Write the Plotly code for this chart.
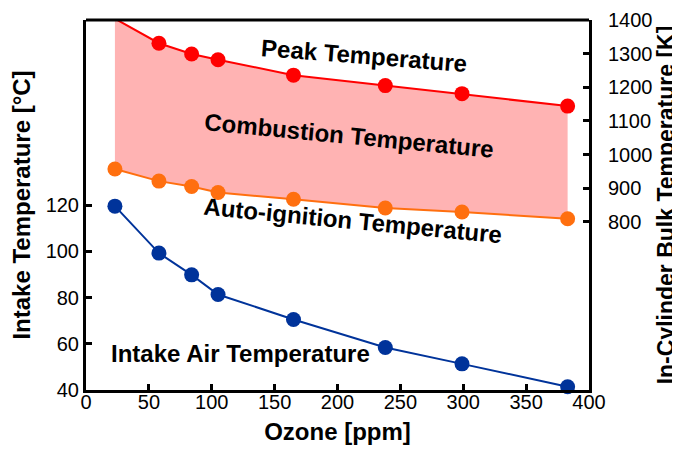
import plotly.graph_objects as go

ozone = [23, 58, 84, 105, 165, 238, 299, 383]
intake_air = [119.5, 99.2, 89.8, 81.3, 70.5, 58.4, 51.3, 41.4]
peak_temp = [1404, 1331, 1299, 1282, 1236, 1205, 1181, 1144]
auto_ign = [957, 921, 905, 887, 867, 841, 829, 809]

x_ticks = [0, 50, 100, 150, 200, 250, 300, 350, 400]
left_ticks = [40, 60, 80, 100, 120]
right_ticks = [800, 900, 1000, 1100, 1200, 1300, 1400]

FONT = "Liberation Sans, Arial, sans-serif"
RED = "#FF0000"
ORANGE = "#FF6F0F"
BLUE = "#00339A"
FILL = "#FFB3B3"

fig = go.Figure()

# Combustion band (fill only)
fig.add_trace(go.Scatter(x=ozone, y=auto_ign, yaxis="y2", mode="lines",
                         line=dict(width=0, color=FILL), showlegend=False, hoverinfo="skip"))
fig.add_trace(go.Scatter(x=ozone, y=peak_temp, yaxis="y2", mode="lines",
                         line=dict(width=0, color=FILL), fill="tonexty", fillcolor=FILL,
                         showlegend=False, hoverinfo="skip"))

# Lines with markers
fig.add_trace(go.Scatter(x=ozone, y=peak_temp, yaxis="y2", mode="lines+markers",
                         line=dict(color=RED, width=2), marker=dict(color=RED, size=15),
                         cliponaxis=False, showlegend=False))
fig.add_trace(go.Scatter(x=ozone, y=auto_ign, yaxis="y2", mode="lines+markers",
                         line=dict(color=ORANGE, width=2), marker=dict(color=ORANGE, size=15),
                         cliponaxis=False, showlegend=False))
fig.add_trace(go.Scatter(x=ozone, y=intake_air, yaxis="y", mode="lines+markers",
                         line=dict(color=BLUE, width=2), marker=dict(color=BLUE, size=15),
                         cliponaxis=False, showlegend=False))

ann_font = dict(family=FONT, size=24, color="black")
annotations = [
    dict(text="<b>Peak Temperature</b>", x=0.553, y=0.905, textangle=4.5),
    dict(text="<b>Combustion Temperature</b>", x=0.523, y=0.688, textangle=5.5),
    dict(text="<b>Auto-ignition Temperature</b>", x=0.531, y=0.458, textangle=5.5),
    dict(text="<b>Intake Air Temperature</b>", x=0.308, y=0.100, textangle=0),
]
for a in annotations:
    fig.add_annotation(xref="paper", yref="paper", showarrow=False, font=ann_font,
                       xanchor="center", yanchor="middle", **a)

# top frame line
fig.add_shape(type="line", xref="paper", yref="paper", x0=0, x1=1, y0=1, y1=1,
              line=dict(color="black", width=3), layer="above")

axis_common = dict(showline=True, linecolor="black", linewidth=3, ticks="inside",
                   ticklen=6, tickwidth=3, tickcolor="black", showgrid=False, zeroline=False,
                   automargin=False, ticklabeloverflow="allow",
                   tickfont=dict(family=FONT, size=20, color="black"))

title_font = dict(family=FONT, size=24, color="black")

fig.update_layout(
    width=672, height=442,
    margin=dict(l=78, r=91, t=12, b=60),
    paper_bgcolor="white", plot_bgcolor="white",
    xaxis=dict(range=[0, 400], tickvals=x_ticks, ticklabelstandoff=-8,
               title=dict(text="<b>Ozone [ppm]</b>", font=title_font, standoff=12),
               **axis_common),
    yaxis=dict(range=[40, 200], tickvals=left_ticks,
               title=dict(text="<b>Intake Temperature [°C]</b>", font=title_font, standoff=10),
               **axis_common),
    yaxis2=dict(range=[300, 1400], tickvals=right_ticks, overlaying="y", side="right",
                ticklabelstandoff=12,
                title=dict(text="<b>In-Cylinder Bulk Temperature [K]</b>",
                           font=dict(family=FONT, size=23, color="black"), standoff=0),
                **axis_common),
)

fig.write_html("out.html")
